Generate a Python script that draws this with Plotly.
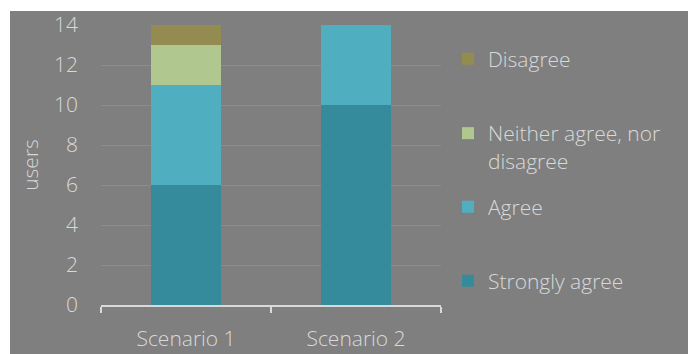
import plotly.graph_objects as go

categories = ["Scenario 1", "Scenario 2"]
strongly_agree = [6, 10]
agree = [5, 4]
neither = [2, 0]
disagree = [1, 0]
y_ticks = [0, 2, 4, 6, 8, 10, 12, 14]

FONT = "Open Sans"
FS = 21
WT = 300
TXT = "#d9d9d9"
BG = "#7f7f7f"

series = [
    ("Strongly agree", strongly_agree, "#358a9b", "legend4"),
    ("Agree", agree, "#50aec1", "legend3"),
    ("Neither agree, nor<br>disagree", neither, "#b0c78f", "legend2"),
    ("Disagree", disagree, "#938b50", "legend"),
]

fig = go.Figure()
for name, vals, color, lg in series:
    fig.add_trace(go.Bar(
        x=categories, y=vals, name=name, legend=lg,
        marker=dict(color=color, line=dict(width=0)),
    ))

L, R, T, B = 101, 247, 25, 49
W, H = 688, 354
pw, ph = W - L - R, H - T - B

def px(x):
    return (x - L) / pw

def py(y):
    return (H - B - y) / ph

def fnt():
    return dict(family=FONT, size=FS, color=TXT, weight=WT)

legend_common = dict(
    xanchor="left", x=px(448), yanchor="middle",
    font=fnt(),
    bgcolor="rgba(0,0,0,0)", borderwidth=0,
    itemclick=False, itemdoubleclick=False,
)

fig.update_layout(
    width=W, height=H,
    margin=dict(l=L, r=R, t=T, b=B, autoexpand=False),
    paper_bgcolor="white",
    plot_bgcolor=BG,
    barmode="stack",
    bargap=0.59,
    font=fnt(),
    showlegend=True,
    legend=dict(**legend_common, y=py(59)),
    legend2=dict(**legend_common, y=py(147), valign="top"),
    legend3=dict(**legend_common, y=py(207)),
    legend4=dict(**legend_common, y=py(281)),
    shapes=[dict(
        type="rect", xref="paper", yref="paper", layer="below",
        x0=px(10), x1=px(W + 5), y0=py(H + 5), y1=py(11),
        fillcolor=BG, line=dict(width=0),
    )],
    xaxis=dict(
        showgrid=False, showline=True, linecolor=TXT, linewidth=2,
        ticks="outside", tickson="boundaries", ticklen=6, tickwidth=2,
        tickcolor=TXT, tickfont=fnt(),
        ticklabelstandoff=14, automargin=False,
        fixedrange=True,
    ),
    yaxis=dict(
        range=[0, 14], tickvals=y_ticks, showgrid=True, gridcolor="#8c8c8c",
        gridwidth=1, zeroline=False, showline=False, ticks="",
        ticklabelstandoff=22, automargin=False,
        tickfont=fnt(),
        title=dict(text="users", font=fnt(), standoff=9),
        fixedrange=True,
    ),
)

fig.write_html("out.html")
